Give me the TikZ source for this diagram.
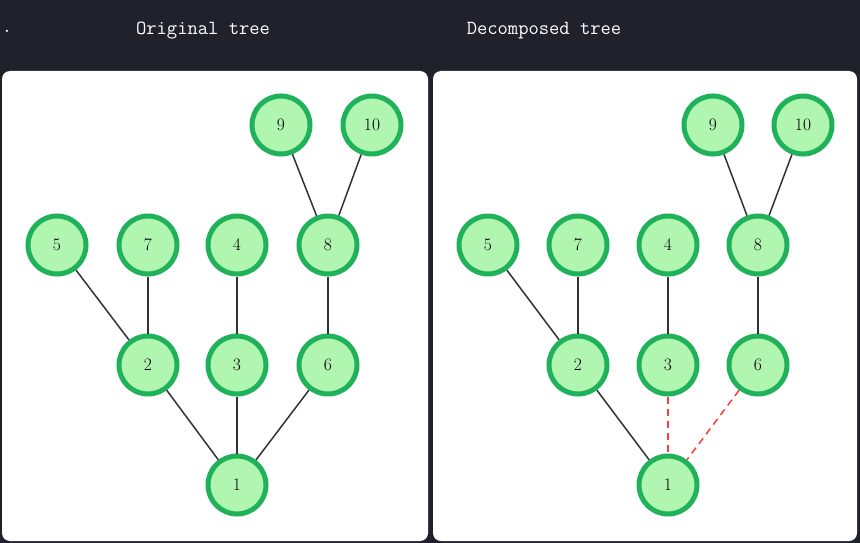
\documentclass[tikz,border=0pt]{standalone}
\usepackage{fontspec}
\usepackage{tikz}
\usetikzlibrary{positioning}
\definecolor{bgdark}{HTML}{20212B}
\definecolor{nodefill}{HTML}{B0F5B0}
\definecolor{nodering}{HTML}{1FB25A}
\definecolor{edgegray}{HTML}{333333}
\definecolor{cutred}{HTML}{FF3B3B}
\tikzset{
  treenode/.style={circle, draw=nodering, fill=nodefill, line width=5pt,
    minimum size=58pt, inner sep=0pt, font=\fontsize{17.5}{17.5}\selectfont},
  treeedge/.style={draw=edgegray, line width=1.5pt},
  cutedge/.style={draw=cutred, line width=1.5pt, dash pattern=on 7pt off 5pt},
  panel/.style={fill=white, rounded corners=8pt},
  title/.style={text=white, font=\fontsize{20}{20}\selectfont\ttfamily}
}

\begin{document}
\begin{tikzpicture}[x=1pt, y=-1pt]
  \fill[bgdark] (0,0) rectangle (860,543);
  \useasboundingbox (0,0) rectangle (860,543);
  \fill[panel] (2,71) rectangle (428,541);
  \fill[panel] (433,71) rectangle (857,541);
  \node[title] (dot) at (7,31) {.};
  \node[title] (lefttitle) at (203,31) {Original tree};
  \node[title] (righttitle) at (544,31) {Decomposed tree};

  % original tree
  \node[treenode] (L9) at (281,125) {9};
  \node[treenode] (L10) at (372,125) {10};
  \node[treenode] (L5) at (57,245) {5};
  \node[treenode] (L7) at (148,245) {7};
  \node[treenode] (L4) at (237,245) {4};
  \node[treenode] (L8) at (328,245) {8};
  \node[treenode] (L2) at (148,365) {2};
  \node[treenode] (L3) at (237,365) {3};
  \node[treenode] (L6) at (328,365) {6};
  \node[treenode] (L1) at (237,485) {1};
  \draw[treeedge] (L9) -- (L8);
  \draw[treeedge] (L10) -- (L8);
  \draw[treeedge] (L5) -- (L2);
  \draw[treeedge] (L7) -- (L2);
  \draw[treeedge] (L4) -- (L3);
  \draw[treeedge] (L8) -- (L6);
  \draw[treeedge] (L2) -- (L1);
  \draw[treeedge] (L3) -- (L1);
  \draw[treeedge] (L6) -- (L1);

  % decomposed tree
  \node[treenode] (R9) at (713,125) {9};
  \node[treenode] (R10) at (803,125) {10};
  \node[treenode] (R5) at (488,245) {5};
  \node[treenode] (R7) at (578,245) {7};
  \node[treenode] (R4) at (668,245) {4};
  \node[treenode] (R8) at (758,245) {8};
  \node[treenode] (R2) at (578,365) {2};
  \node[treenode] (R3) at (668,365) {3};
  \node[treenode] (R6) at (758,365) {6};
  \node[treenode] (R1) at (668,485) {1};
  \draw[treeedge] (R9) -- (R8);
  \draw[treeedge] (R10) -- (R8);
  \draw[treeedge] (R5) -- (R2);
  \draw[treeedge] (R7) -- (R2);
  \draw[treeedge] (R4) -- (R3);
  \draw[treeedge] (R8) -- (R6);
  \draw[treeedge] (R2) -- (R1);
  \draw[cutedge] (R3) -- (R1);
  \draw[cutedge] (R6) -- (R1);
\end{tikzpicture}
\end{document}
